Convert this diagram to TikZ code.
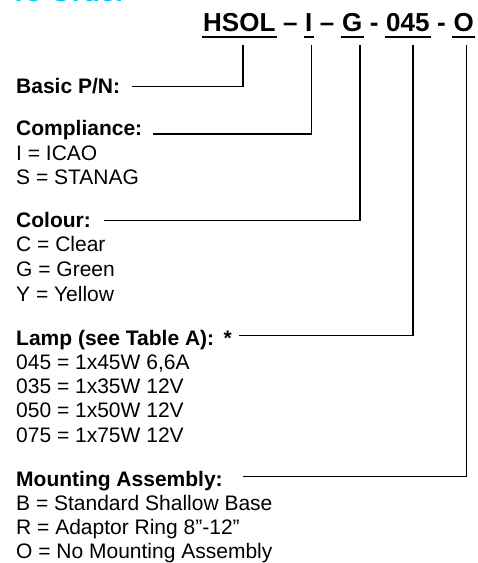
\documentclass[tikz,border=0pt]{standalone}
\usepackage{fontspec}
\setmainfont{Liberation Sans}
\usetikzlibrary{calc}
\definecolor{headcyan}{RGB}{0,200,255}
\newcommand{\pnsp}{\kern0.278em}
\begin{document}
\begin{tikzpicture}[x=1pt,y=-1pt,
  lbl/.style={inner sep=0pt, anchor=base west, font=\fontsize{21}{24.3}\selectfont\bfseries},
  opt/.style={inner sep=0pt, anchor=base west, font=\fontsize{21}{24.3}\selectfont},
  pn/.style={inner sep=0pt, anchor=base west, font=\fontsize{26}{30}\selectfont\bfseries},
  ul/.style={line width=2pt},
  conn/.style={line width=1.4pt, line join=miter}]
\useasboundingbox (0,0) rectangle (478,563);
\clip (0,0) rectangle (478,563);

% cut-off heading
\node[inner sep=0pt, anchor=base west, text=headcyan, font=\fontsize{28}{30}\selectfont\bfseries] (head) at (10,1.5) {To Order};

% part number
\node[pn] (hsol) at (203,31) {HSOL};
\node[pn] (d1) at (hsol.base east) {\pnsp–\pnsp};
\node[pn] (ci) at (d1.base east) {I};
\node[pn] (d2) at (ci.base east) {\pnsp–\pnsp};
\node[pn] (cg) at (d2.base east) {G};
\node[pn] (d3) at (cg.base east) {\pnsp-\pnsp};
\node[pn] (cl) at (d3.base east) {045};
\node[pn] (d4) at (cl.base east) {\pnsp-\pnsp};
\node[pn] (cm) at (d4.base east) {O};
\foreach \n in {hsol,ci,cg,cl,cm}
  \draw[ul] ($(\n.base west)+(-1,5.7)$) -- ($(\n.base east)+(1,5.7)$);

% labels
\node[lbl] (basic) at (16,93.3) {Basic P/N:};
\node[lbl] (comp) at (16,135.7) {Compliance:};
\foreach \t [count=\i] in {I = ICAO, S = STANAG}
  \node[opt, name=comp-\i] at ($(comp.base west)+(0,\i*24.3)$) {\t};
\node[lbl] (col) at (16,227) {Colour:};
\foreach \t [count=\i] in {C = Clear, G = Green, Y = Yellow}
  \node[opt, name=col-\i] at ($(col.base west)+(0,\i*24.8)$) {\t};
\node[lbl] (lamp) at (16,345) {Lamp (see Table A):\kern0.45em*};
\foreach \t [count=\i] in {045 = 1x45W 6\rlap{,}\phantom{,}6A, 035 = 1x35W 12V, 050 = 1x50W 12V, 075 = 1x75W 12V}
  \node[opt, name=lamp-\i] at ($(lamp.base west)+(0,\i*24.3)$) {\t};
\node[lbl] (mnt) at (16,486.7) {Mounting Assembly:};
\foreach \t [count=\i] in {B = Standard Shallow Base, R = Adaptor Ring 8”-12”, O = No Mounting Assembly}
  \node[opt, name=mnt-\i] at ($(mnt.base west)+(0,\i*24)$) {\t};

% connectors
\draw[conn] ($(hsol.base west)+(40,14)$) |- ($(basic.base east)+(12,-7)$);
\draw[conn] ($(ci.base east)+(-1.3,14)$) |- ($(comp.base east)+(11,-1.7)$);
\draw[conn] ($(cg.base east)+(-2.4,14)$) |- ($(col.base east)+(13,-6.7)$);
\draw[conn] ($(cl.base east)+(-16.9,14)$) |- ($(lamp.base east)+(7,-9.3)$);
\draw[conn] ($(cm.base east)+(-7.2,14)$) |- ($(mnt.base east)+(20,-10)$);
\end{tikzpicture}
\end{document}
